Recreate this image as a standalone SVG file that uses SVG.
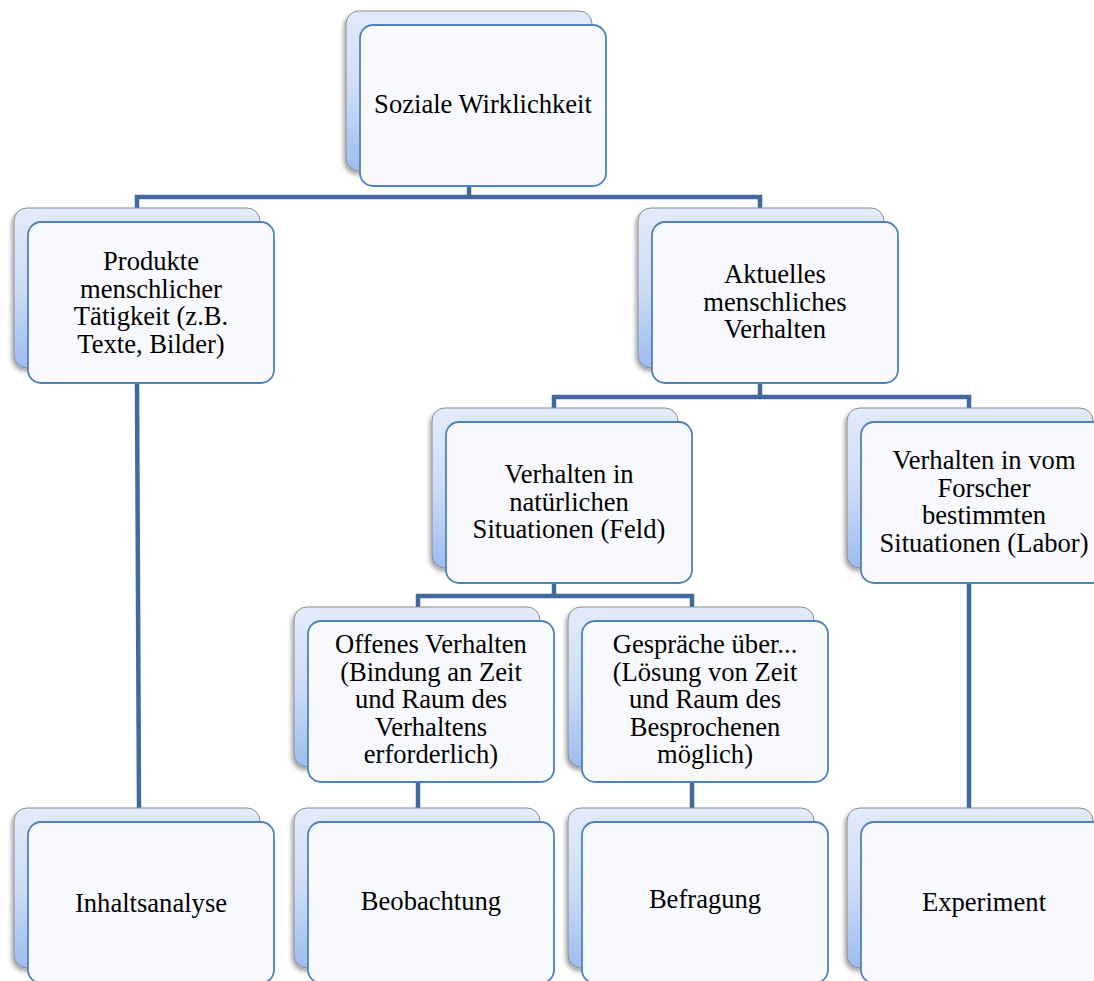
<svg xmlns="http://www.w3.org/2000/svg" width="1094" height="981" viewBox="0 0 1094 981">
<defs>
<linearGradient id="backGrad" x1="0" y1="0" x2="0" y2="1">
<stop offset="0" stop-color="#e2ebfa"/>
<stop offset="0.5" stop-color="#cddcf6"/>
<stop offset="1" stop-color="#9dbcef"/>
</linearGradient>
<filter id="shadow" x="-10%" y="-10%" width="120%" height="125%">
<feDropShadow dx="-2" dy="3" stdDeviation="2" flood-color="#000" flood-opacity="0.35"/>
</filter>
<g id="card">
<rect x="-14" y="-14" width="246" height="160" rx="13" ry="13" class="back"/>
<rect x="0" y="0" width="246" height="161" rx="13" ry="13" class="front"/>
</g>
</defs>
<style>
.back{fill:url(#backGrad);stroke:#8c8c8c;stroke-width:1;filter:url(#shadow);}
.front{fill:#f7f9fd;stroke:#4f81bd;stroke-width:1.8;}
.conn{fill:none;stroke:#41699e;stroke-width:4.5;stroke-linejoin:miter;}
text{font-family:"Liberation Serif","Times New Roman",serif;font-size:26.6px;fill:#000;text-anchor:middle;}
</style>
<rect width="1094" height="981" fill="#fff"/>

<g id="connectors">
<path class="conn" d="M469,187 V197 M137,208 V197 H760 V208"/>
<path class="conn" d="M760,383 V397 M554,408 V397 H969 V408"/>
<path class="conn" d="M554,583 V596 M418,607 V596 H692 V607"/>
<path class="conn" d="M137,383 L139,808"/>
<path class="conn" d="M969,583 V808"/>
<path class="conn" d="M418,783 V808"/>
<path class="conn" d="M692,783 V808"/>
</g>

<g id="n-soziale">
<use href="#card" x="360" y="25"/>
<text x="483" y="113">Soziale Wirklichkeit</text>
</g>

<g id="n-produkte">
<use href="#card" x="28" y="222"/>
<text x="151" y="270">Produkte</text>
<text x="151" y="297.5">menschlicher</text>
<text x="151" y="325">Tätigkeit (z.B.</text>
<text x="151" y="352.5">Texte, Bilder)</text>
</g>

<g id="n-aktuelles">
<use href="#card" x="652" y="222"/>
<text x="775" y="283">Aktuelles</text>
<text x="775" y="310.5">menschliches</text>
<text x="775" y="338">Verhalten</text>
</g>

<g id="n-feld">
<use href="#card" x="446" y="422"/>
<text x="569" y="483">Verhalten in</text>
<text x="569" y="510.5">natürlichen</text>
<text x="569" y="538">Situationen (Feld)</text>
</g>

<g id="n-labor">
<use href="#card" x="861" y="422"/>
<text x="984" y="469">Verhalten in vom</text>
<text x="984" y="496.5">Forscher</text>
<text x="984" y="524">bestimmten</text>
<text x="984" y="551.5">Situationen (Labor)</text>
</g>

<g id="n-offenes">
<use href="#card" x="308" y="621"/>
<text x="431" y="653">Offenes Verhalten</text>
<text x="431" y="680.5">(Bindung an Zeit</text>
<text x="431" y="708">und Raum des</text>
<text x="431" y="735.5">Verhaltens</text>
<text x="431" y="763">erforderlich)</text>
</g>

<g id="n-gespraeche">
<use href="#card" x="582" y="621"/>
<text x="705" y="653">Gespräche über...</text>
<text x="705" y="680.5">(Lösung von Zeit</text>
<text x="705" y="708">und Raum des</text>
<text x="705" y="735.5">Besprochenen</text>
<text x="705" y="763">möglich)</text>
</g>

<g id="n-inhaltsanalyse">
<use href="#card" x="28" y="822"/>
<text x="151" y="912">Inhaltsanalyse</text>
</g>

<g id="n-beobachtung">
<use href="#card" x="308" y="822"/>
<text x="431" y="910">Beobachtung</text>
</g>

<g id="n-befragung">
<use href="#card" x="582" y="822"/>
<text x="705" y="908">Befragung</text>
</g>

<g id="n-experiment">
<use href="#card" x="861" y="822"/>
<text x="984" y="911">Experiment</text>
</g>
</svg>
